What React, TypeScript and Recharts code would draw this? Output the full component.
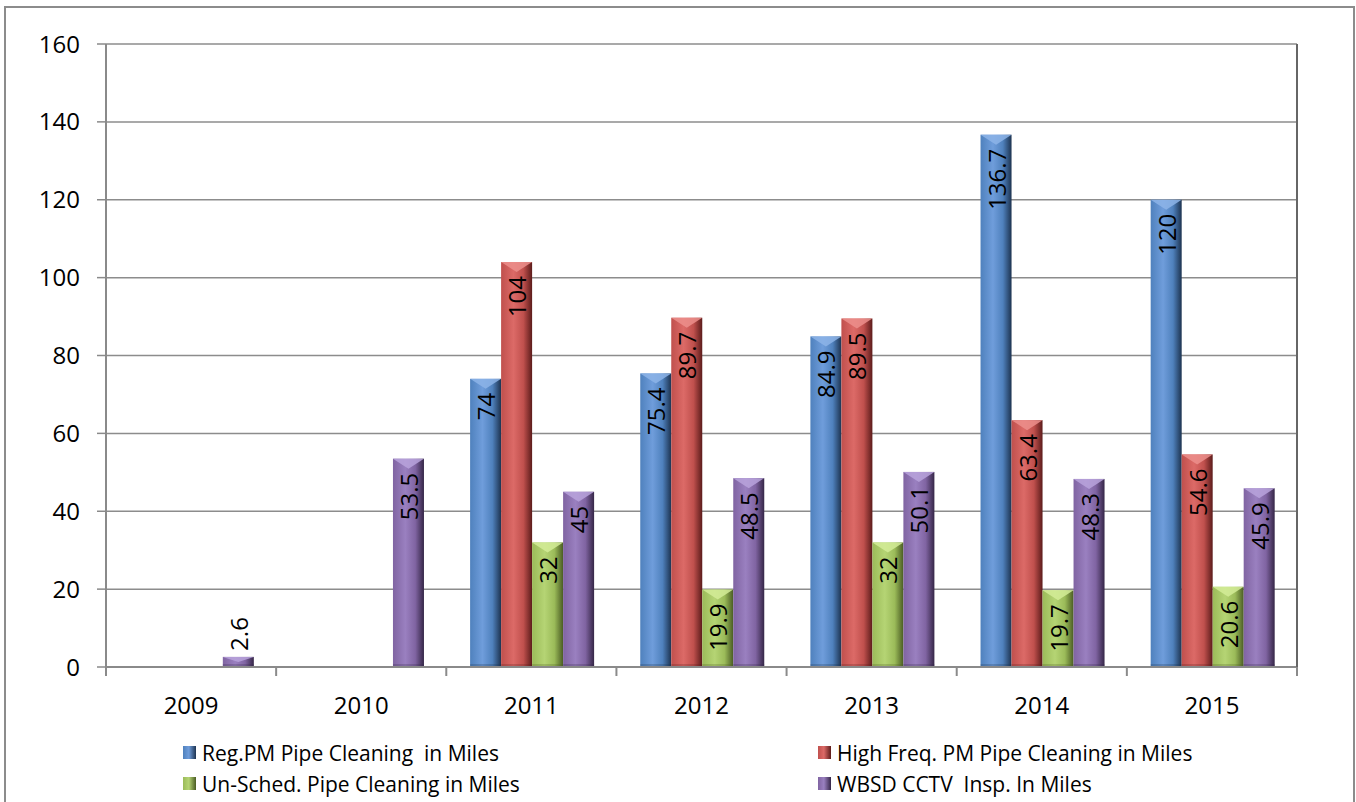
import React from "react";
import { BarChart, Bar, XAxis, YAxis, CartesianGrid, LabelList } from "recharts";

// categories and series (miles per year)
const years = ["2009", "2010", "2011", "2012", "2013", "2014", "2015"];
const regPM = [null, null, 74, 75.4, 84.9, 136.7, 120];
const highFreq = [null, null, 104, 89.7, 89.5, 63.4, 54.6];
const unSched = [null, null, 32, 19.9, 32, 19.7, 20.6];
const cctv = [2.6, 53.5, 45, 48.5, 50.1, 48.3, 45.9];
const yTicks = [0, 20, 40, 60, 80, 100, 120, 140, 160];

const series = [
  { key: "reg", name: "Reg.PM Pipe Cleaning  in Miles", values: regPM, light: "#6f9ddb", base: "#4f81bd", dark: "#1d3350", top: "#8db4e8" },
  { key: "high", name: "High Freq. PM Pipe Cleaning in Miles", values: highFreq, light: "#dc6a67", base: "#c0504d", dark: "#5c1c1b", top: "#ec8f8c" },
  { key: "un", name: "Un-Sched. Pipe Cleaning in Miles", values: unSched, light: "#b5d474", base: "#9bbb59", dark: "#4a5c23", top: "#d3ec98" },
  { key: "wbsd", name: "WBSD CCTV  Insp. In Miles", values: cctv, light: "#9a80c0", base: "#8064a2", dark: "#352647", top: "#b9a3dc" },
];

const data = years.map((year, i) => {
  const row: Record<string, any> = { year };
  series.forEach((s) => (row[s.key] = s.values[i]));
  return row;
});

const FONT = "'Open Sans', Lato, 'Liberation Sans', sans-serif";
const W = 1356;
const H = 802;
const PLOT_LEFT = 106;
const PLOT_RIGHT = 1297;
const BAND = (PLOT_RIGHT - PLOT_LEFT) / years.length;

const makeShape = (s: (typeof series)[number]) => (props: any) => {
  const { x, y, width, height } = props;
  if (height == null || height <= 0) return null;
  const bevel = Math.min(10, height / 2);
  return (
    <g>
      <rect x={x} y={y} width={width} height={height} fill={`url(#grad-${s.key})`} />
      <polygon
        points={`${x},${y} ${x + width},${y} ${x + width / 2},${y + bevel}`}
        fill={s.top}
        opacity={0.85}
      />
      <rect x={x} y={y + height - 3} width={width} height={3} fill={s.dark} opacity={0.25} />
    </g>
  );
};

const renderLabel = (props: any) => {
  const { x, y, width, height, value } = props;
  if (value == null) return null;
  const cx = x + width / 2;
  const inside = height > 60;
  const ay = inside ? y + 14 : y - 6;
  return (
    <text
      x={cx}
      y={ay}
      transform={`rotate(-90, ${cx}, ${ay})`}
      textAnchor={inside ? "end" : "start"}
      dominantBaseline="central"
      fontSize={24}
      fontFamily={FONT}
      fill="#000"
    >
      {value}
    </text>
  );
};

const XTick = (props: any) => {
  const { x, y, payload, index } = props;
  const left = x - BAND / 2;
  return (
    <g>
      <line x1={left} y1={y} x2={left} y2={y + 9} stroke="#8a8a8a" strokeWidth={2} />
      {index === years.length - 1 && (
        <line x1={x + BAND / 2} y1={y} x2={x + BAND / 2} y2={y + 9} stroke="#8a8a8a" strokeWidth={2} />
      )}
      <text x={x} y={y + 37} textAnchor="middle" dominantBaseline="central" fontSize={24} fontFamily={FONT} fill="#000">
        {payload.value}
      </text>
    </g>
  );
};

const LegendItem = ({ s }: { s: (typeof series)[number] }) => (
  <div style={{ display: "flex", alignItems: "center", height: 31 }}>
    <span
      style={{
        width: 13,
        height: 13,
        marginRight: 6,
        background: `linear-gradient(90deg, ${s.base}, ${s.light} 45%, ${s.dark})`,
      }}
    />
    <span style={{ whiteSpace: "pre", fontSize: 21, fontFamily: FONT, color: "#000" }}>{s.name}</span>
  </div>
);

export default function App() {
  return (
    <div style={{ position: "absolute", left: 0, top: 0, width: W, height: H, background: "#fff", overflow: "hidden" }}>
      <div
        style={{
          position: "absolute",
          left: 4,
          top: 6,
          width: 1347,
          height: 820,
          border: "2px solid #8c8c8c",
        }}
      />
      <BarChart
        width={W}
        height={H}
        data={data}
        margin={{ top: 44, right: W - PLOT_RIGHT - 1, left: PLOT_LEFT - 60, bottom: 95 }}
        barCategoryGap="14%"
        barGap={0}
        style={{ position: "absolute", left: 0, top: 0 }}
      >
        <defs>
          {series.map((s) => (
            <linearGradient key={s.key} id={`grad-${s.key}`} x1="0" y1="0" x2="1" y2="0">
              <stop offset="0%" stopColor={s.base} />
              <stop offset="40%" stopColor={s.light} />
              <stop offset="72%" stopColor={s.base} />
              <stop offset="100%" stopColor={s.dark} />
            </linearGradient>
          ))}
        </defs>
        <CartesianGrid vertical={false} stroke="#8c8c8c" strokeWidth={1.5} />
        <XAxis
          dataKey="year"
          height={40}
          tickLine={false}
          tickSize={0}
          tickMargin={0}
          axisLine={{ stroke: "#8a8a8a", strokeWidth: 2 }}
          tick={<XTick />}
          interval={0}
        />
        <YAxis
          width={60}
          domain={[0, 160]}
          ticks={yTicks}
          tickSize={9}
          tickMargin={17}
          tickLine={{ stroke: "#8a8a8a", strokeWidth: 1.5 }}
          axisLine={{ stroke: "#8a8a8a", strokeWidth: 2 }}
          tick={{ fontSize: 24, fontFamily: FONT, fill: "#000" }}
        />
        <YAxis
          yAxisId="r"
          orientation="right"
          width={1}
          domain={[0, 160]}
          ticks={yTicks}
          tick={false}
          tickLine={false}
          axisLine={{ stroke: "#666", strokeWidth: 2 }}
        />
        {series.map((s) => (
          <Bar key={s.key} dataKey={s.key} name={s.name} fill={s.base} shape={makeShape(s)} isAnimationActive={false}>
            <LabelList dataKey={s.key} content={renderLabel} />
          </Bar>
        ))}
      </BarChart>
      <div style={{ position: "absolute", left: 183, top: 737 }}>
        <LegendItem s={series[0]} />
        <LegendItem s={series[2]} />
      </div>
      <div style={{ position: "absolute", left: 818, top: 737 }}>
        <LegendItem s={series[1]} />
        <LegendItem s={series[3]} />
      </div>
    </div>
  );
}
